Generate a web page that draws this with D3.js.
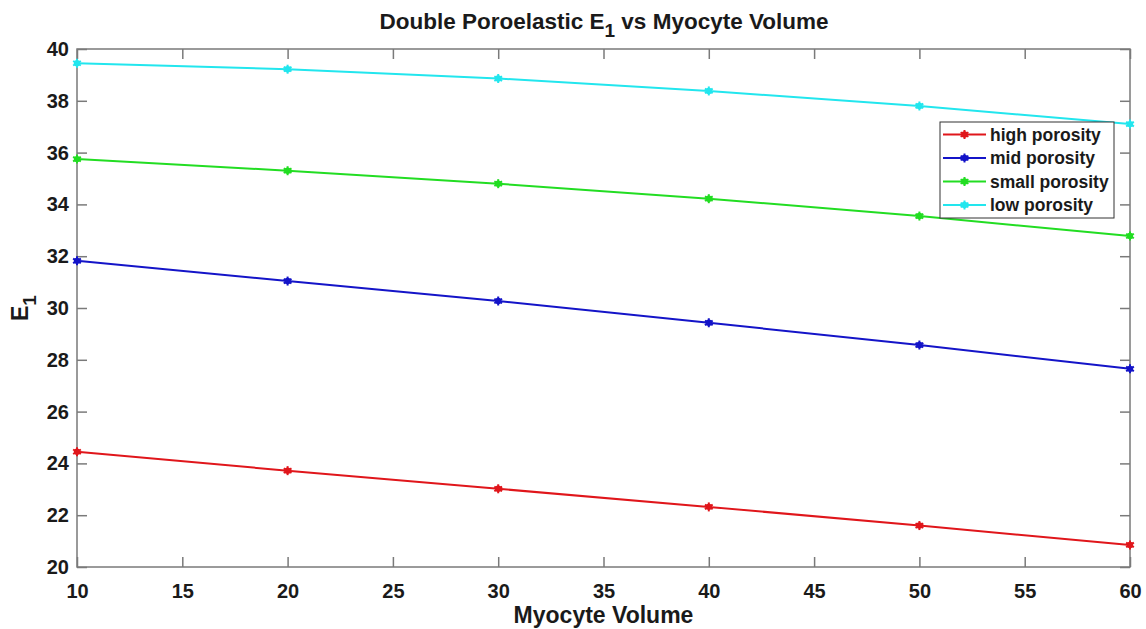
<!DOCTYPE html>
<html lang="en">
<head>
<meta charset="utf-8">
<title>Double Poroelastic E1 vs Myocyte Volume</title>
<script src="https://d3js.org/d3.v7.min.js"></script>
<style>
  body { margin: 0; background: #fff; }
  text { font-family: "Liberation Sans", Arial, sans-serif; font-weight: bold; fill: #1a1a1a; }
</style>
</head>
<body>
<script>
// data
var volume = [10, 20, 30, 40, 50, 60];
var highPorosity  = [24.45, 23.72, 23.02, 22.32, 21.60, 20.85];
var midPorosity   = [31.82, 31.04, 30.27, 29.43, 28.57, 27.65];
var smallPorosity = [35.75, 35.30, 34.80, 34.22, 33.55, 32.78];
var lowPorosity   = [39.45, 39.22, 38.86, 38.38, 37.80, 37.10];
var seriesNames = ["high porosity", "mid porosity", "small porosity", "low porosity"];
var xTicks = [10, 15, 20, 25, 30, 35, 40, 45, 50, 55, 60];
var yTicks = [20, 22, 24, 26, 28, 30, 32, 34, 36, 38, 40];

var w = 1146, h = 629;
var margin = {top: 49, right: 16, bottom: 62, left: 77};

var series = [
  {name: seriesNames[0], values: highPorosity,  color: "#e0161b"},
  {name: seriesNames[1], values: midPorosity,   color: "#1414c8"},
  {name: seriesNames[2], values: smallPorosity, color: "#22dd22"},
  {name: seriesNames[3], values: lowPorosity,   color: "#22e6ee"}
];

var svg = d3.select("body").append("svg")
  .attr("width", w).attr("height", h);

var x = d3.scaleLinear().domain([10, 60]).range([margin.left, w - margin.right]);
var y = d3.scaleLinear().domain([20, 40]).range([h - margin.bottom, margin.top]);

// box + inward ticks
var axisColor = "#7a7a7a";
svg.append("rect")
  .attr("x", x(10)).attr("y", y(40))
  .attr("width", x(60) - x(10)).attr("height", y(20) - y(40))
  .attr("fill", "none").attr("stroke", axisColor).attr("stroke-width", 1.5);

svg.append("g")
  .attr("transform", "translate(0," + y(20) + ")")
  .call(d3.axisBottom(x).tickValues(xTicks).tickSize(-10).tickPadding(17));
svg.append("g")
  .attr("transform", "translate(" + x(10) + ",0)")
  .call(d3.axisLeft(y).tickValues(yTicks).tickSize(-10).tickPadding(8));
// ticks on the top and right sides as well
svg.append("g")
  .attr("transform", "translate(0," + y(40) + ")")
  .call(d3.axisTop(x).tickValues(xTicks).tickSize(-10).tickFormat(""));
svg.append("g")
  .attr("transform", "translate(" + x(60) + ",0)")
  .call(d3.axisRight(y).tickValues(yTicks).tickSize(-10).tickFormat(""));

svg.selectAll(".domain").remove();
svg.selectAll(".tick line").attr("stroke", axisColor).attr("stroke-width", 1.5);
svg.selectAll(".tick text").style("font-size", "20px").style("fill", "#1a1a1a");

// lines
var line = d3.line()
  .x(function(d, i) { return x(volume[i]); })
  .y(function(d) { return y(d); });

function marker(g, cx, cy, color) {
  var r = 4.5;
  g.append("circle").attr("cx", cx).attr("cy", cy).attr("r", 3.2).attr("fill", color);
  [0, 60, 120].forEach(function(a) {
    var rad = a * Math.PI / 180;
    g.append("line")
      .attr("x1", cx - r * Math.sin(rad)).attr("y1", cy - r * Math.cos(rad))
      .attr("x2", cx + r * Math.sin(rad)).attr("y2", cy + r * Math.cos(rad))
      .attr("stroke", color).attr("stroke-width", 2);
  });
}

series.forEach(function(s) {
  svg.append("path")
    .datum(s.values)
    .attr("d", line)
    .attr("fill", "none")
    .attr("stroke", s.color)
    .attr("stroke-width", 2);
  var g = svg.append("g");
  s.values.forEach(function(v, i) {
    marker(g, x(volume[i]), y(v), s.color);
  });
});

// title
var title = svg.append("text")
  .attr("x", 604).attr("y", 29)
  .attr("text-anchor", "middle")
  .style("font-size", "22.5px");
title.append("tspan").text("Double Poroelastic E");
title.append("tspan").attr("dy", 8).style("font-size", "19px").text("1");
title.append("tspan").attr("dy", -8).text(" vs Myocyte Volume");

// axis labels
svg.append("text")
  .attr("x", (x(10) + x(60)) / 2).attr("y", 623)
  .attr("text-anchor", "middle")
  .style("font-size", "23px")
  .text("Myocyte Volume");

var yl = svg.append("text")
  .attr("transform", "translate(28," + ((y(20) + y(40)) / 2) + ") rotate(-90)")
  .attr("text-anchor", "middle")
  .style("font-size", "23px");
yl.append("tspan").text("E");
yl.append("tspan").attr("dy", 8).style("font-size", "19px").text("1");

// legend
var lg = svg.append("g").attr("transform", "translate(940,122)");
lg.append("rect")
  .attr("width", 174).attr("height", 96)
  .attr("fill", "#fff").attr("stroke", "#333").attr("stroke-width", 1);
series.forEach(function(s, i) {
  var ly = 12.5 + i * 23.5;
  lg.append("line")
    .attr("x1", 3).attr("x2", 46).attr("y1", ly).attr("y2", ly)
    .attr("stroke", s.color).attr("stroke-width", 2);
  marker(lg, 24.5, ly, s.color);
  lg.append("text")
    .attr("x", 50).attr("y", ly + 6)
    .style("font-size", "17.5px")
    .text(s.name);
});
</script>
</body>
</html>
